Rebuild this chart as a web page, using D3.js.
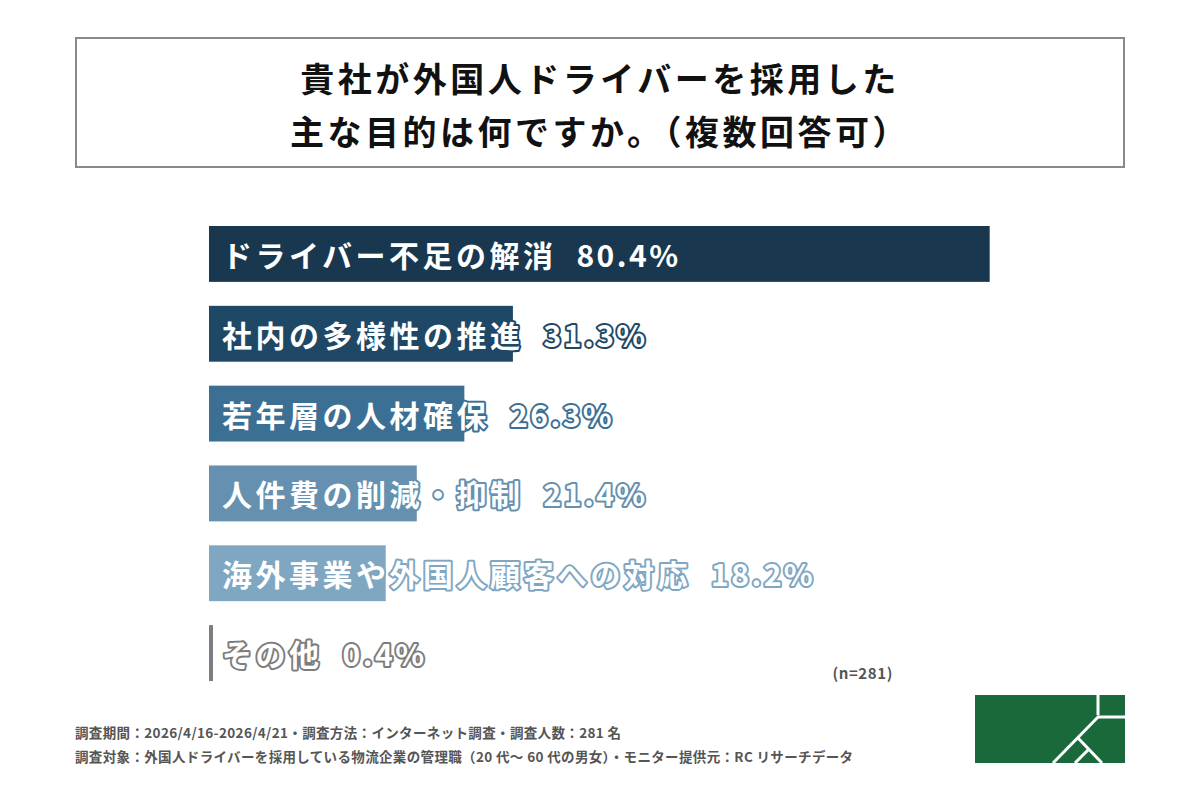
<!DOCTYPE html>
<html><head><meta charset="utf-8">
<script src="https://cdn.jsdelivr.net/npm/d3@7"></script>
<style>
html,body{margin:0;padding:0;background:#fff;}
svg{display:block;}
text{font-family:"Noto Sans CJK JP","Noto Sans",sans-serif;}
</style></head>
<body>
<svg id="chart" width="1200" height="800"></svg>
<script>
const titleLines = ["貴社が外国人ドライバーを採用した", "主な目的は何ですか。（複数回答可）"];
const categories = ["ドライバー不足の解消","社内の多様性の推進","若年層の人材確保","人件費の削減・抑制","海外事業や外国人顧客への対応","その他"];
const values = [80.4, 31.3, 26.3, 21.4, 18.2, 0.4];
const barColors = ["#19384f","#1f4866","#3b7094","#6590b0","#80a7c2","#7d7d7d"];
const sampleNote = "(n=281)";
const footnotes = [
  "調査期間：2026/4/16-2026/4/21・調査方法：インターネット調査・調査人数：281 名",
  "調査対象：外国人ドライバーを採用している物流企業の管理職（20 代～ 60 代の男女）・モニター提供元：RC リサーチデータ"
];

const svg = d3.select("#chart");

// Title box
svg.append("rect").attr("x",76).attr("y",38).attr("width",1048).attr("height",129)
  .attr("fill","#fff").attr("stroke","#8a8a8a").attr("stroke-width",2);
svg.append("g").selectAll("text").data(titleLines).join("text")
  .attr("x",600).attr("y",(d,i)=>92+i*53)
  .attr("text-anchor","middle").attr("font-size",34).attr("font-weight",700)
  .attr("letter-spacing",3.5).attr("fill","#111").text(d=>d);

const x = d3.scaleLinear().domain([0,100]).range([209, 1180]);
const y = d3.scaleBand().domain(categories).range([226, 681]).paddingInner(0.3).paddingOuter(0);

const rows = categories.map((c,i)=>({c, v:values[i], col:barColors[i]}));

const g = svg.append("g");
g.selectAll("rect.bar").data(rows).join("rect").attr("class","bar")
  .attr("x",x(0)).attr("y",d=>y(d.c))
  .attr("width",d=>Math.max(4, x(d.v)-x(0))).attr("height",y.bandwidth())
  .attr("fill",d=>d.col);

const labels = g.selectAll("text.lab").data(rows).join("text").attr("class","lab")
  .attr("x",x(0)+13).attr("y",d=>y(d.c)+y.bandwidth()/2)
  .attr("dominant-baseline","central")
  .attr("font-size",30).attr("font-weight",700).attr("letter-spacing",3.5)
  .attr("fill","#fff").attr("stroke",d=>d.col).attr("stroke-width",4)
  .attr("stroke-linejoin","round").attr("paint-order","stroke");
labels.append("tspan").text(d=>d.c);
labels.append("tspan").attr("dx",20).attr("letter-spacing",2.5).text(d=>d3.format(".1f")(d.v)+"%");

// n note
svg.append("text").attr("x",893).attr("y",679).attr("text-anchor","end")
  .attr("font-size",15).attr("font-weight",700).attr("letter-spacing",0.6).attr("fill","#555").text(sampleNote);

// footnotes
svg.append("g").selectAll("text").data(footnotes).join("text")
  .attr("x",75).attr("y",(d,i)=>738+i*24)
  .attr("font-size",13.5).attr("font-weight",700).attr("letter-spacing",0.35).attr("fill","#555").text(d=>d);

// logo
const logo = svg.append("g");
logo.append("rect").attr("x",975).attr("y",695).attr("width",150).attr("height",68).attr("fill","#19693a");
const wl = [
  [[1098,695],[1098,715]],
  [[1098,717],[1125,717]],
  [[1099,716],[1053,763]],
  [[1078,738],[1102,763]],
  [[1088,750],[1075,763]]
];
logo.selectAll("path").data(wl).join("path")
  .attr("d",d=>d3.line()(d)).attr("stroke","#fff").attr("stroke-width",3).attr("fill","none");
</script>
</body></html>
